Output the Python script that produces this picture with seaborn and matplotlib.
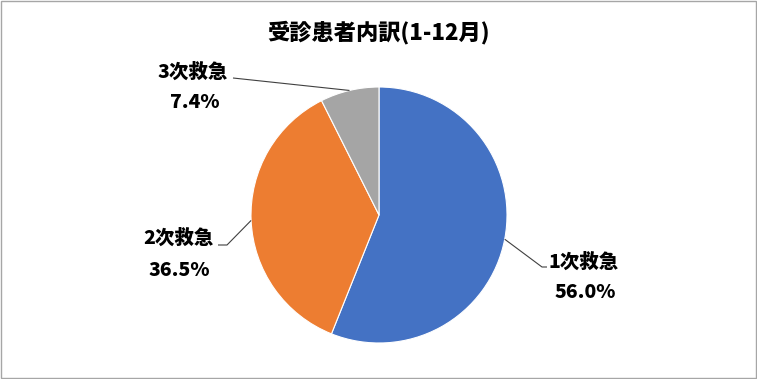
import numpy as np
import matplotlib
matplotlib.use("Agg")
import matplotlib.pyplot as plt
import seaborn as sns

categories = ["1次救急", "2次救急", "3次救急"]
values = [56.0, 36.5, 7.4]
pct_labels = ["56.0%", "36.5%", "7.4%"]
colors = ["#4472C4", "#ED7D31", "#A5A5A5"]
title = "受診患者内訳(1-12月)"

sns.set_theme(style="white")
plt.rcParams['font.family'] = ['Noto Sans CJK JP', 'DejaVu Sans']

W, H = 757, 379
CX, CY, R = 379, 215, 128  # pixel layout of the pie

fig = plt.figure(figsize=(W / 100, H / 100), dpi=100)
ax = fig.add_axes([0, 0, 1, 1])

wedges, _ = ax.pie(values, colors=colors, startangle=90, counterclock=False,
                   radius=1, center=(0, 0),
                   wedgeprops=dict(edgecolor="white", linewidth=0.8))

def px(x, y):
    return ((x - CX) / R, (CY - y) / R)

ax.set_xlim(-CX / R, (W - CX) / R)
ax.set_ylim(-(H - CY) / R, CY / R)
ax.set_aspect('equal', adjustable='box')
ax.axis('off')

# label layout (pixel positions): name center, pct center, elbow points
layout = [
    dict(name=(584, 262), pct=(585, 293), elbow=[(542, 267), (547, 267)]),
    dict(name=(178, 238), pct=(179, 270), elbow=[(227, 245), (218, 245)]),
    dict(name=(193, 72), pct=(195, 102), elbow=[(233, 78)]),
]

for w, cat, pl, lay in zip(wedges, categories, pct_labels, layout):
    mid = np.deg2rad((w.theta1 + w.theta2) / 2)
    ex, ey = np.cos(mid), np.sin(mid)
    pts = [(ex, ey)] + [px(*p) for p in lay["elbow"]]
    xs, ys = zip(*pts)
    ax.plot(xs, ys, color="#404040", lw=0.8, solid_capstyle="butt")
    nx, ny = px(*lay["name"])
    ax.text(nx, ny, cat, ha="center", va="center", fontsize=14,
            fontweight="black", color="#000000")
    qx, qy = px(*lay["pct"])
    ax.text(qx, qy, pl, ha="center", va="center", fontsize=14,
            fontweight="black", color="#000000")

fig.text(379 / W, 1 - 33 / H, title, ha="center", va="center",
         fontsize=16, fontweight="black", color="#000000")

border = plt.Rectangle((0.5 / W, 1.2 / H), 1 - 1.2 / W, 1 - 1.8 / H,
                       transform=fig.transFigure, fill=False,
                       edgecolor="#A6A6A6", linewidth=1, zorder=10)
fig.patches.append(border)

fig.savefig("out.png", dpi=100, facecolor="white")
